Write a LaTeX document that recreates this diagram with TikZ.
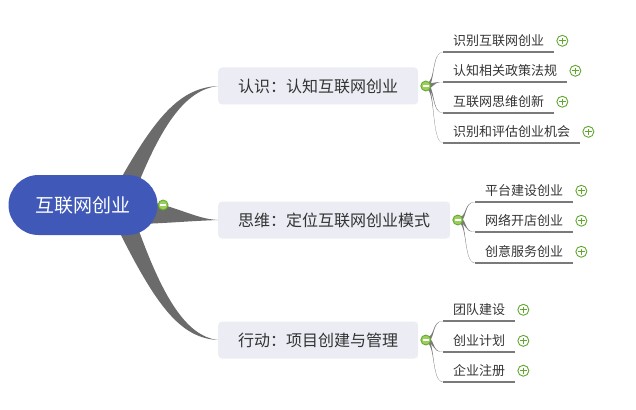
\documentclass[tikz,border=0pt]{standalone}
\usepackage{fontspec}
\setmainfont{Noto Sans CJK SC}
\usetikzlibrary{positioning,calc,backgrounds}
\definecolor{MapBlue}{HTML}{4059B9}
\definecolor{MapBox}{HTML}{EBECF4}
\definecolor{MapBranch}{HTML}{6B6B6B}
\definecolor{MapTwig}{HTML}{7A7A7A}
\definecolor{MapText}{HTML}{333333}
\definecolor{MapGreen}{HTML}{5FA72E}
\definecolor{MapGreenLight}{HTML}{9ACD5A}

\begin{document}
\begin{tikzpicture}[x=1pt,y=-1pt,node distance=2pt]
    \tikzset{rootbox/.style={rounded corners=30pt,fill=MapBlue,text=white,minimum width=149pt,minimum height=60pt,font=\fontsize{19}{19}\selectfont},
      topicbox/.style={anchor=west,rounded corners=4pt,fill=MapBox,text=MapText,inner xsep=20pt,minimum height=37pt,font=\fontsize{16}{16}\selectfont},
      leafnode/.style={anchor=south west,inner xsep=10pt,inner ysep=5pt,text=MapText,font=\fontsize{13}{13}\selectfont},
      minusmark/.style={circle,minimum size=10pt,inner sep=0pt,fill=MapGreenLight,draw=MapGreen,line width=0.8pt,
        path picture={\draw[white,line width=1.4pt] ([xshift=2.2pt]path picture bounding box.west) -- ([xshift=-2.2pt]path picture bounding box.east);}},
      plusmark/.style={circle,minimum size=11pt,inner sep=0pt,fill=white,draw=MapGreen,line width=0.9pt,
        path picture={\draw[MapGreen,line width=1.1pt] ([xshift=2.3pt]path picture bounding box.west) -- ([xshift=-2.3pt]path picture bounding box.east)
          ([yshift=-2.3pt]path picture bounding box.north) -- ([yshift=2.3pt]path picture bounding box.south);}},
      branch/.style={fill=MapBranch},
      twig/.style={fill=MapTwig},
      twigline/.style={draw=MapTwig,line width=1.3pt}}
    \useasboundingbox (0,0) rectangle (636,409);

    \node[rootbox] (root) at (83,205) {互联网创业};
    \node[topicbox] (k1) at (218,86) {认识：认知互联网创业};
    \node[topicbox] (k2) at (218,220) {思维：定位互联网创业模式};
    \node[topicbox] (k3) at (218,340) {行动：项目创建与管理};

    \node[minusmark,right=0pt of root] (m0) {};
    \node[minusmark,right=of k1] (m1) {};
    \node[minusmark,right=of k2] (m2) {};
    \node[minusmark,right=of k3] (m3) {};

    % leaves
    \node[leafnode] (l11) at (443,52) {识别互联网创业};
    \node[leafnode] (l12) at (443,82) {认知相关政策法规};
    \node[leafnode] (l13) at (443,113) {互联网思维创新};
    \node[leafnode] (l14) at (443,143) {识别和评估创业机会};
    \node[leafnode] (l21) at (475,202) {平台建设创业};
    \node[leafnode] (l22) at (475,232) {网络开店创业};
    \node[leafnode] (l23) at (475,263) {创意服务创业};
    \node[leafnode] (l31) at (443,321) {团队建设};
    \node[leafnode] (l32) at (443,352) {创业计划};
    \node[leafnode] (l33) at (443,382) {企业注册};

    \foreach \l in {l11,l12,l13,l14,l21,l22,l23,l31,l32,l33}
      \node[plusmark,right=of \l] (p\l) {};

    \begin{scope}[on background layer]
      % main branches
      \fill[branch] ($(root.center)+(23,0)$) .. controls ($(root.center)+(67,-80)$) and ($(k1.west)+(-43,2)$) .. (k1.west)
        .. controls ($(k1.west)+(-33,4)$) and ($(root.center)+(77,-80)$) .. ($(root.center)+(47,0)$) -- cycle;
      \fill[branch] ($(root.center)+(57,-5)$) .. controls ($(root.center)+(92,0)$) and ($(k2.west)+(-23,-1)$) .. (k2.west)
        .. controls ($(k2.west)+(-28,1)$) and ($(root.center)+(87,18)$) .. ($(root.center)+(57,19)$) -- cycle;
      \fill[branch] ($(root.center)+(23,0)$) .. controls ($(root.center)+(67,90)$) and ($(k3.west)+(-43,-2)$) .. (k3.west)
        .. controls ($(k3.west)+(-33,-4)$) and ($(root.center)+(77,90)$) .. ($(root.center)+(47,0)$) -- cycle;
      % twigs and underlines
      \foreach \m/\l in {m1/l11,m1/l12,m1/l13,m1/l14,m2/l21,m2/l22,m2/l23,m3/l31,m3/l32,m3/l33} {
        \fill[twig] ($(\m.center)+(0,-2.5)$) .. controls +(10,0) and +(-12,0) .. (\l.south west)
          .. controls +(-12,0) and +(10,0) .. ($(\m.center)+(0,2.5)$) -- cycle;
        \draw[twigline] (\l.south west) -- (\l.south east);
      }
    \end{scope}
  \end{tikzpicture}
\end{document}
